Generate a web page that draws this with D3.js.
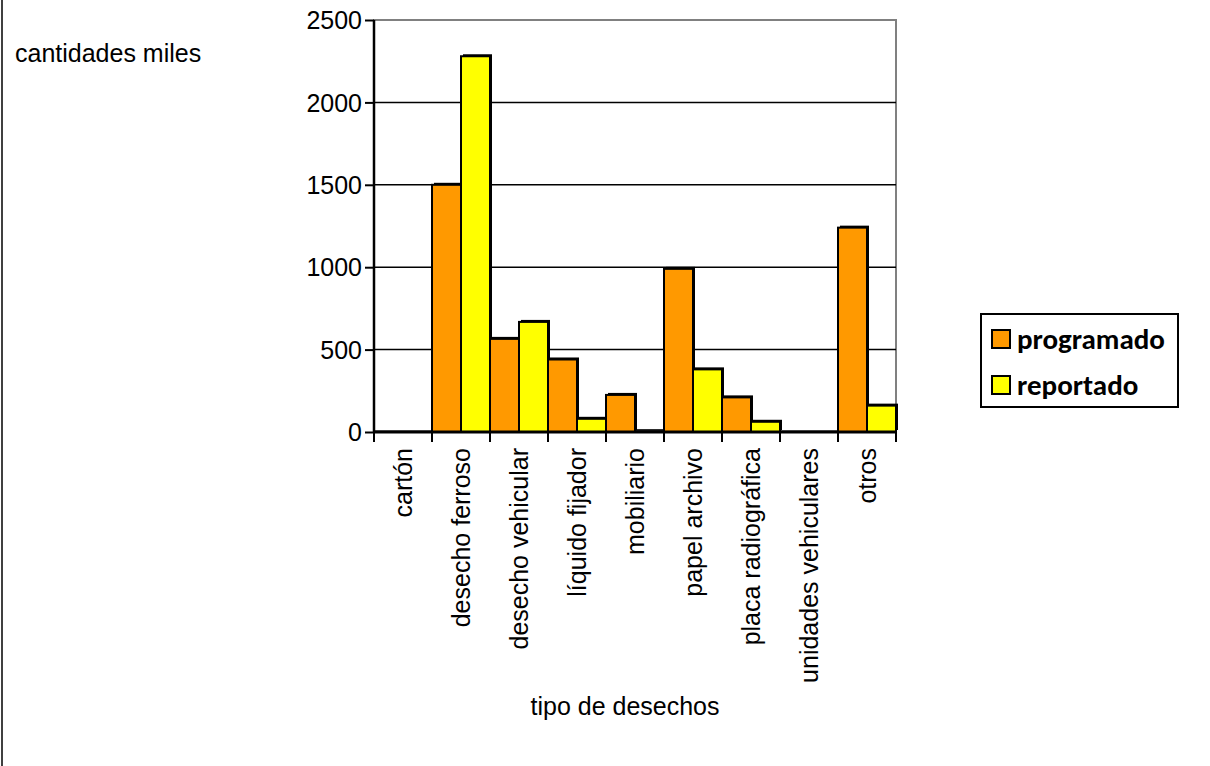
<!DOCTYPE html>
<html>
<head>
<meta charset="utf-8">
<script src="https://cdn.jsdelivr.net/npm/d3@7"></script>
<style>
  html, body { margin: 0; padding: 0; background: #fff; }
  svg text { font-family: "Liberation Sans", Arial, sans-serif; fill: #000; }
</style>
</head>
<body>
<svg id="chart" width="1210" height="766"></svg>
<script>
// Waste types and quantities (thousands)
const categories = ["cartón", "desecho ferroso", "desecho vehicular", "líquido fijador",
  "mobiliario", "papel archivo", "placa radiográfica", "unidades vehiculares", "otros"];
const seriesNames = ["programado", "reportado"];
const programado = [0, 1500, 565, 440, 225, 990, 210, 0, 1240];
const reportado = [0, 2280, 668, 80, 5, 380, 62, 0, 160];
const yTicks = [0, 500, 1000, 1500, 2000, 2500];
const colors = { programado: "#FF9900", reportado: "#FFFF00" };

const svg = d3.select("#chart");
const plot = { left: 374, right: 896, top: 20, bottom: 432 };

// outer frame (left edge visible)
svg.append("line").attr("x1", 2).attr("x2", 2).attr("y1", 0).attr("y2", 766)
  .attr("stroke", "#000").attr("stroke-width", 1.5);

const x = d3.scaleBand().domain(categories).range([plot.left, plot.right]).padding(0);
const xs = d3.scaleBand().domain(seriesNames).range([0, x.bandwidth()]).padding(0);
const y = d3.scaleLinear().domain([0, 2500]).range([plot.bottom, plot.top]);

// plot area border
svg.append("rect")
  .attr("x", plot.left).attr("y", plot.top)
  .attr("width", plot.right - plot.left).attr("height", plot.bottom - plot.top - 1)
  .attr("fill", "none").attr("stroke", "#808080").attr("stroke-width", 2);

// gridlines
svg.append("g").selectAll("line").data(yTicks.filter(d => d > 0 && d < 2500)).join("line")
  .attr("x1", plot.left).attr("x2", plot.right)
  .attr("y1", d => y(d)).attr("y2", d => y(d))
  .attr("stroke", "#000").attr("stroke-width", 1.5);

// bars
const data = [];
categories.forEach((c, i) => {
  data.push({ cat: c, s: "programado", v: programado[i] });
  data.push({ cat: c, s: "reportado", v: reportado[i] });
});
const bars = data.filter(d => d.v > 0);
const g = svg.append("g");
// drop shadow
g.selectAll("rect.shadow").data(bars).join("rect").attr("class", "shadow")
  .attr("x", d => x(d.cat) + xs(d.s) + 2)
  .attr("y", d => y(d.v) - 2)
  .attr("width", xs.bandwidth())
  .attr("height", d => y(0) - y(d.v))
  .attr("fill", "#000");
g.selectAll("rect.bar").data(bars).join("rect").attr("class", "bar")
  .attr("x", d => x(d.cat) + xs(d.s))
  .attr("y", d => y(d.v))
  .attr("width", xs.bandwidth())
  .attr("height", d => y(0) - y(d.v))
  .attr("fill", d => colors[d.s])
  .attr("stroke", "#000").attr("stroke-width", 2);

// y axis
const yAxis = svg.append("g").attr("transform", `translate(${plot.left},0)`)
  .call(d3.axisLeft(y).tickValues(yTicks).tickSize(9).tickPadding(3).tickFormat(d3.format("d")));
yAxis.select(".domain").attr("stroke", "#000").attr("stroke-width", 2.5)
  .attr("d", `M0,${plot.bottom}V${plot.top}`);
yAxis.selectAll(".tick line").attr("stroke", "#000").attr("stroke-width", 2);
yAxis.selectAll(".tick text").attr("font-size", 25).attr("dy", "0.35em");

// x axis with ticks at category boundaries
const xAxis = svg.append("g").attr("transform", `translate(0,${plot.bottom})`);
xAxis.append("line").attr("x1", plot.left - 1).attr("x2", plot.right + 1)
  .attr("stroke", "#000").attr("stroke-width", 3);
const bounds = categories.map(c => x(c)).concat([plot.right]);
xAxis.selectAll("line.tk").data(bounds).join("line").attr("class", "tk")
  .attr("x1", d => d).attr("x2", d => d).attr("y1", 0).attr("y2", 10)
  .attr("stroke", "#000").attr("stroke-width", 2);
xAxis.selectAll("text").data(categories).join("text")
  .attr("transform", d => `translate(${x(d) + x.bandwidth() / 2},16) rotate(-90)`)
  .attr("text-anchor", "end").attr("dy", "0.35em")
  .attr("font-size", 25).text(d => d);

// axis titles
svg.append("text").attr("x", 15).attr("y", 62).attr("font-size", 25).text("cantidades miles");
svg.append("text").attr("x", 625).attr("y", 715).attr("text-anchor", "middle")
  .attr("font-size", 25).text("tipo de desechos");

// legend
const lg = svg.append("g");
lg.append("rect").attr("x", 981).attr("y", 314).attr("width", 197).attr("height", 93)
  .attr("fill", "#fff").attr("stroke", "#000").attr("stroke-width", 2);
const rowY = [339, 385];
seriesNames.forEach((s, i) => {
  lg.append("rect").attr("x", 992).attr("y", rowY[i] - 9).attr("width", 18).attr("height", 18)
    .attr("fill", colors[s]).attr("stroke", "#000").attr("stroke-width", 2);
  lg.append("text").attr("x", 1017).attr("y", rowY[i]).attr("dy", "0.35em")
    .attr("font-size", 29).attr("font-weight", "bold")
    .style("font-family", "Carlito, Calibri, Lato, sans-serif").text(s);
});
</script>
</body>
</html>
